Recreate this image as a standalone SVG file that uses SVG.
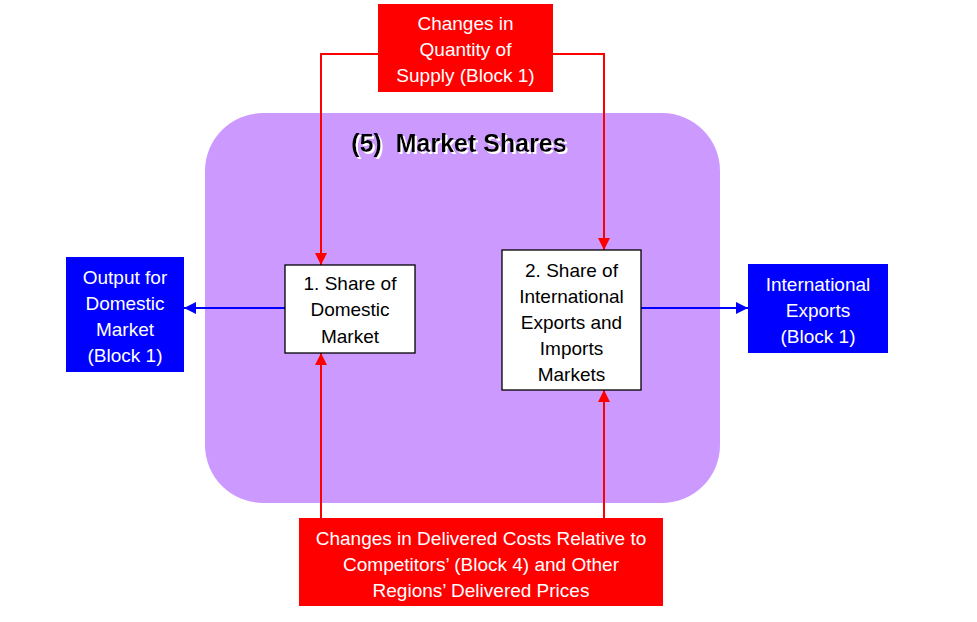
<svg xmlns="http://www.w3.org/2000/svg" width="977" height="622" viewBox="0 0 977 622">
<defs>
<style>
.t{font-family:"Liberation Sans",Arial,sans-serif;font-size:19px;text-anchor:middle}
.w{fill:#ffffff}
.k{fill:#000000}
.red{fill:#ff0000}
.blue{fill:#0000ff}
.box{fill:#ffffff;stroke:#000000;stroke-width:1.3}
.rl{stroke:#ff0000;stroke-width:2;fill:none}
.bl{stroke:#0000ff;stroke-width:2;fill:none}
</style>
<filter id="sh" x="-5%" y="-20%" width="110%" height="140%"><feDropShadow dx="2" dy="2" stdDeviation="0" flood-color="#ffffff" flood-opacity="1"/></filter>
<marker id="ar" viewBox="0 0 10 10" refX="10" refY="5" markerWidth="12" markerHeight="12" markerUnits="userSpaceOnUse" orient="auto"><path d="M0,0 L10,5 L0,10 z" fill="#ff0000"/></marker>
<marker id="ab" viewBox="0 0 10 10" refX="10" refY="5" markerWidth="12" markerHeight="12" markerUnits="userSpaceOnUse" orient="auto"><path d="M0,0 L10,5 L0,10 z" fill="#0000ff"/></marker>
</defs>
<rect width="977" height="622" fill="#ffffff"/>
<g id="market-shares">
<rect x="205" y="113" width="515" height="390" rx="58" ry="58" fill="#cc99ff"/>
<text x="459" y="152" filter="url(#sh)" style="font-family:'Liberation Sans',Arial,sans-serif;font-size:25px;font-weight:bold;text-anchor:middle" fill="#000000" xml:space="preserve">(5)  Market Shares</text>
</g>
<g id="connectors">
<path class="rl" d="M378,54 H321 V265" marker-end="url(#ar)"/>
<path class="rl" d="M553,54 H604 V250" marker-end="url(#ar)"/>
<path class="rl" d="M321,518 V353" marker-end="url(#ar)"/>
<path class="rl" d="M604,518 V390" marker-end="url(#ar)"/>
<path class="bl" d="M285,308 H184" marker-end="url(#ab)"/>
<path class="bl" d="M641,308 H748" marker-end="url(#ab)"/>
</g>
<g id="supply">
<rect class="red" x="378" y="4" width="175" height="88"/>
<text class="t w" x="465.5" y="30">Changes in</text>
<text class="t w" x="465.5" y="56">Quantity of</text>
<text class="t w" x="465.5" y="82">Supply (Block 1)</text>
</g>
<g id="share-domestic">
<rect class="box" x="285" y="265" width="130" height="88"/>
<text class="t k" x="350" y="290">1. Share of</text>
<text class="t k" x="350" y="316">Domestic</text>
<text class="t k" x="350" y="343">Market</text>
</g>
<g id="share-international">
<rect class="box" x="502" y="250" width="139" height="140"/>
<text class="t k" x="571.5" y="277">2. Share of</text>
<text class="t k" x="571.5" y="303">International</text>
<text class="t k" x="571.5" y="329">Exports and</text>
<text class="t k" x="571.5" y="355">Imports</text>
<text class="t k" x="571.5" y="381">Markets</text>
</g>
<g id="output-domestic">
<rect class="blue" x="66" y="257" width="118" height="115"/>
<text class="t w" x="125" y="284">Output for</text>
<text class="t w" x="125" y="310">Domestic</text>
<text class="t w" x="125" y="336">Market</text>
<text class="t w" x="125" y="362">(Block 1)</text>
</g>
<g id="international-exports">
<rect class="blue" x="748" y="264" width="140" height="89"/>
<text class="t w" x="818" y="291">International</text>
<text class="t w" x="818" y="317">Exports</text>
<text class="t w" x="818" y="343">(Block 1)</text>
</g>
<g id="delivered-costs">
<rect class="red" x="299" y="518" width="364" height="88"/>
<text class="t w" x="481" y="545">Changes in Delivered Costs Relative to</text>
<text class="t w" x="481" y="571">Competitors’ (Block 4) and Other</text>
<text class="t w" x="481" y="597">Regions’ Delivered Prices</text>
</g>
</svg>
